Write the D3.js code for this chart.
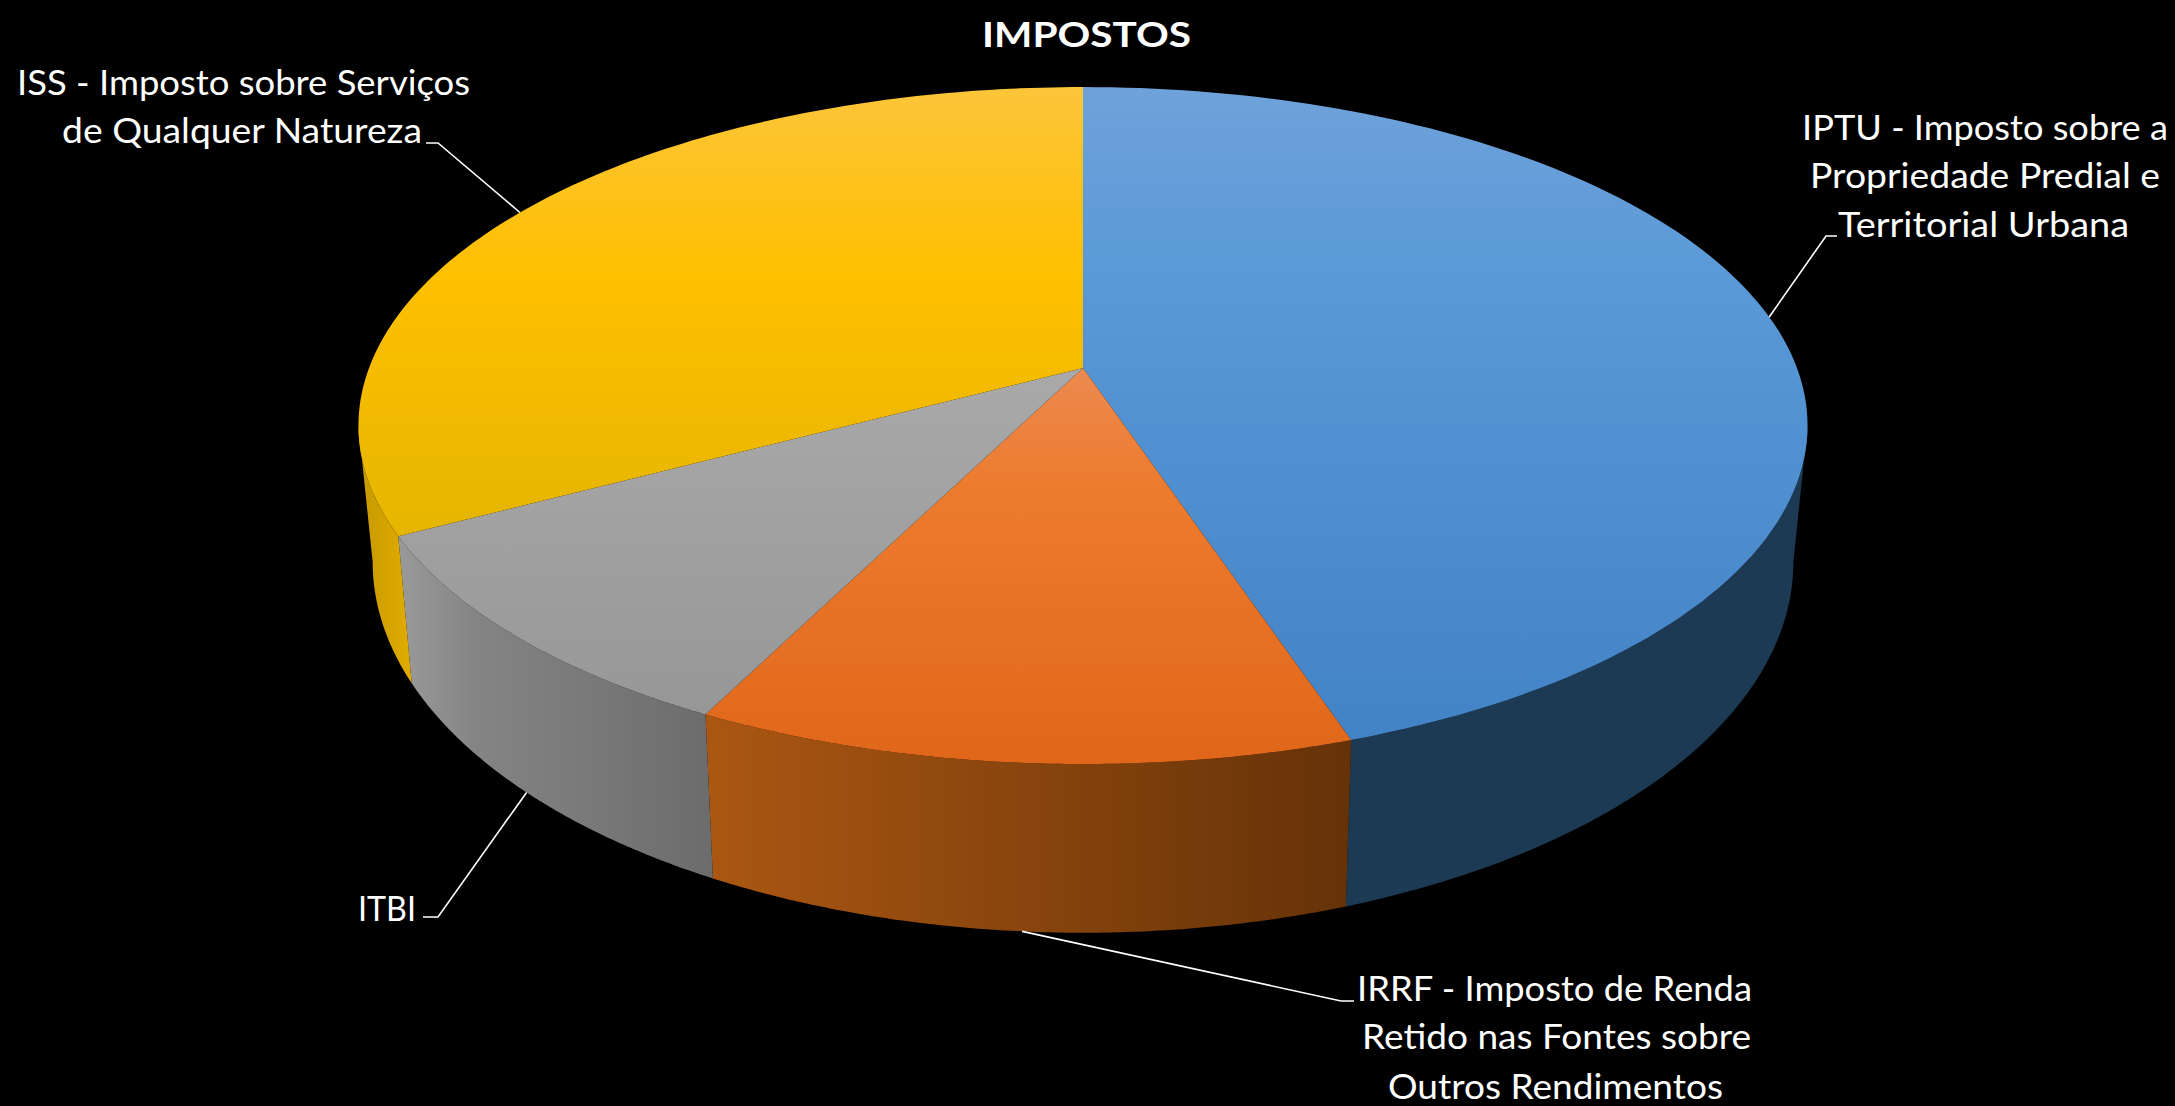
<!DOCTYPE html>
<html><head><meta charset="utf-8">
<script src="https://cdn.jsdelivr.net/npm/d3@7"></script>
<style>html,body{margin:0;padding:0;background:#000;overflow:hidden}svg{display:block}text{font-family:Lato,Carlito,sans-serif;fill:#fff}</style>
</head><body><div id="c"></div>
<script>
const W = 2175, H = 1106;
const chartTitle = "IMPOSTOS";
const categories = ["IPTU", "IRRF", "ITBI", "ISS"];
const values = [44.9, 12.5, 9.8, 32.8];
const labelLines = [
  ["IPTU - Imposto sobre a", "Propriedade Predial e", "Territorial Urbana"],
  ["IRRF - Imposto de Renda", "Retido nas Fontes sobre", "Outros Rendimentos"],
  ["ITBI"],
  ["ISS - Imposto sobre Serviços", "de Qualquer Natureza"]
];
const topStops = [
  [[0, "#6fa2da"], [.25, "#5c9ad8"], [1, "#4283c6"]],
  [[0, "#ec8a50"], [.3, "#ed7b2e"], [1, "#e0671a"]],
  [[0, "#a9a9a9"], [1, "#979797"]],
  [[0, "#fcc53a"], [.42, "#ffc000"], [1, "#e5b500"]]
];
const wallStops = [
  [[0, "#1d3a54"], [1, "#1d3a54"]],
  [[0, "#ab5712"], [1, "#653208"]],
  [[0, "#9a9a9a"], [.25, "#848484"], [1, "#6c6c6c"]],
  [[0, "#c79a00"], [1, "#e3ae00"]]
];
const wallX = [[1347, 1800], [706, 1353], [399, 713], [362, 416]];
const topY = [[87, 740], [368, 764], [368, 714], [87, 535]];
// label layout: [x1, x2, baseline] per line, and elbow polyline start
const lineBoxes = [
  [[1802, 2168, 140], [1810, 2160, 188], [1838, 2129, 237]],
  [[1357, 1752, 1001], [1362, 1751, 1049], [1388, 1723, 1099]],
  [[358, 416, 921]],
  [[17, 470, 95], [62, 422, 143]]
];
const elbows = [
  [[1837, 236], [1826, 236]],
  [[1354, 1001], [1341, 1001]],
  [[423, 917], [438, 917]],
  [[426, 143], [438, 143]]
];
const anchorOnBase = [false, true, true, false];

const k = -0.17;
const xTop = d3.scaleLinear().domain([-1, 1]).range([369, 1797]);
const yTop = d3.scaleLinear().domain([-1, 1]).range([39.3, 696.7]);
const xBot = d3.scaleLinear().domain([-1, 1]).range([383, 1783]);
const yBot = d3.scaleLinear().domain([-1, 1]).range([139, 859]);

const proj = (a, xs, ys) => {
  const u = Math.sin(a), v = -Math.cos(a), w = 1 + k * v;
  return [xs(u / w), ys(v / w)];
};
const top_ = a => proj(a, xTop, yTop);
const bot = a => proj(a, xBot, yBot);
const angles = (a0, a1) => d3.range(0, 121).map(i => a0 + (a1 - a0) * i / 120);

const pie = d3.pie().sort(null)(values);
const line = d3.line();
const svg = d3.select("#c").append("svg").attr("width", W).attr("height", H);
svg.append("rect").attr("width", W).attr("height", H).attr("fill", "#000");
const defs = svg.append("defs");

function grad(id, stops, x1, y1, x2, y2) {
  const g = defs.append("linearGradient").attr("id", id).attr("gradientUnits", "userSpaceOnUse")
    .attr("x1", x1).attr("y1", y1).attr("x2", x2).attr("y2", y2);
  stops.forEach(s => g.append("stop").attr("offset", s[0]).attr("stop-color", s[1]));
}
categories.forEach((c, i) => {
  grad("t" + i, topStops[i], 0, topY[i][0], 0, topY[i][1]);
  grad("w" + i, wallStops[i], wallX[i][0], 0, wallX[i][1], 0);
});

// the wall is visible between the two tangent generators of the perspective ellipse
const tangent = Math.asin(-k);
const wallMin = Math.PI / 2 + tangent, wallMax = 3 * Math.PI / 2 - tangent;
pie.forEach((d, i) => {
  const a0 = Math.max(d.startAngle, wallMin), a1 = Math.min(d.endAngle, wallMax);
  if (a1 <= a0) return;
  const as = angles(a0, a1);
  const pts = as.map(top_).concat(as.slice().reverse().map(bot));
  svg.append("path").attr("d", line(pts) + "Z").attr("fill", `url(#w${i})`);
});
// top faces
const apex = [xTop(0), yTop(0)];
pie.forEach((d, i) => {
  const pts = [apex].concat(angles(d.startAngle, d.endAngle).map(top_));
  svg.append("path").attr("d", line(pts) + "Z").attr("fill", `url(#t${i})`);
});
// leaders
pie.forEach((d, i) => {
  const mid = (d.startAngle + d.endAngle) / 2;
  const end = anchorOnBase[i] ? bot(mid) : top_(mid);
  svg.append("path").attr("d", line(elbows[i].concat([end]))).attr("fill", "none")
    .attr("stroke", "#fff").attr("stroke-width", 1.6);
});
// labels
labelLines.forEach((lines, i) => lines.forEach((t, j) => {
  const b = lineBoxes[i][j];
  svg.append("text").attr("x", b[0]).attr("y", b[2]).attr("font-size", 34)
    .attr("textLength", b[1] - b[0]).attr("lengthAdjust", "spacingAndGlyphs").text(t);
}));
svg.append("text").attr("x", 982).attr("y", 47).attr("font-size", 35).attr("font-weight", 700)
  .attr("textLength", 209).attr("lengthAdjust", "spacingAndGlyphs").text(chartTitle);
</script></body></html>
